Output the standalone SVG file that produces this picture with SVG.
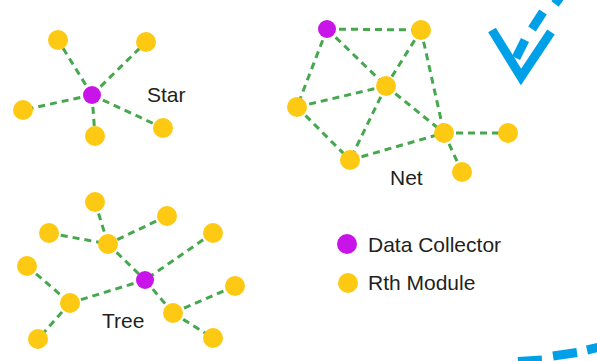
<svg xmlns="http://www.w3.org/2000/svg" width="597" height="361" viewBox="0 0 597 361">
<style>
.e{stroke:#46A84E;stroke-width:3;stroke-dasharray:7 5;fill:none}
.y{fill:#FDC913}
.p{fill:#C814E8}
.t{font-family:"Liberation Sans",Arial,sans-serif;font-size:21px;fill:#231F20}
.b{stroke:#00A0E9;fill:none;stroke-width:9}
</style>
<rect width="597" height="361" fill="#fff"/>
<g id="connectors">
<!-- star -->
<path class="e" d="M92 95L58 40M92 95L146 42M92 95L23 110M92 95L95 136M92 95L163 128"/>
<!-- net -->
<path class="e" d="M327 29L421 30M327 29L386 86M327 29L297 107M421 30L386 86M421 30L444 133M386 86L297 107M386 86L444 133M386 86L350 160M297 107L350 160M350 160L444 133M444 133L508 133M444 133L462 172"/>
<!-- tree -->
<path class="e" d="M95 202L108 244M167 216L108 244M49 233L108 244M108 244L145 280M213 233L145 280M145 280L70 303M145 280L173 313M27 266L70 303M70 303L38 339M173 313L235 286M173 313L213 338"/>
</g>
<g id="star">
<circle class="y" cx="58" cy="40" r="10"/>
<circle class="y" cx="146" cy="42" r="10"/>
<circle class="y" cx="23" cy="110" r="10"/>
<circle class="y" cx="95" cy="136" r="10"/>
<circle class="y" cx="163" cy="128" r="10"/>
<circle class="p" cx="92" cy="95" r="9"/>
<text class="t" x="147" y="102">Star</text>
</g>
<g id="net">
<circle class="p" cx="327" cy="29" r="9"/>
<circle class="y" cx="421" cy="30" r="10"/>
<circle class="y" cx="386" cy="86" r="10"/>
<circle class="y" cx="297" cy="107" r="10"/>
<circle class="y" cx="444" cy="133" r="10"/>
<circle class="y" cx="508" cy="133" r="10"/>
<circle class="y" cx="350" cy="160" r="10"/>
<circle class="y" cx="462" cy="172" r="10"/>
<text class="t" x="390" y="185">Net</text>
</g>
<g id="tree">
<circle class="y" cx="95" cy="202" r="10"/>
<circle class="y" cx="167" cy="216" r="10"/>
<circle class="y" cx="49" cy="233" r="10"/>
<circle class="y" cx="108" cy="244" r="10"/>
<circle class="y" cx="213" cy="233" r="10"/>
<circle class="y" cx="27" cy="266" r="10"/>
<circle class="y" cx="235" cy="286" r="10"/>
<circle class="y" cx="70" cy="303" r="10"/>
<circle class="y" cx="173" cy="313" r="10"/>
<circle class="y" cx="38" cy="339" r="10"/>
<circle class="y" cx="213" cy="338" r="10"/>
<circle class="p" cx="145" cy="280" r="9"/>
<text class="t" x="102" y="328">Tree</text>
</g>
<g id="legend">
<circle class="p" cx="347" cy="244" r="10"/>
<text class="t" x="368" y="252">Data Collector</text>
<circle class="y" cx="348" cy="283" r="10"/>
<text class="t" x="368" y="290">Rth Module</text>
</g>
<g id="arrow">
<path class="b" d="M563 -7L555 4M543 12L532 29M525 40L516 58"/>
<polyline class="b" points="492,30 521,77 551,32" stroke-linejoin="miter"/>
<path class="b" d="M518 361.5L542 360M553 356L577 352.5M587 350L600 347"/>
</g>
</svg>
